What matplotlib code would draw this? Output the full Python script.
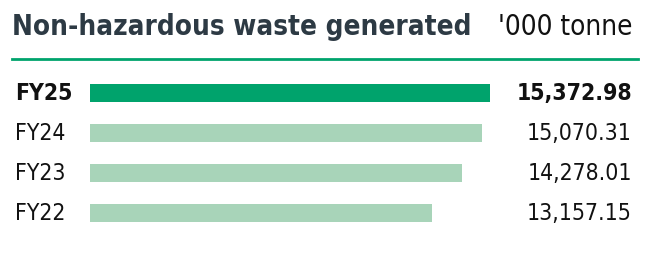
import matplotlib
matplotlib.use('Agg')
import matplotlib.pyplot as plt
from matplotlib.lines import Line2D

years = ['FY25', 'FY24', 'FY23', 'FY22']
values = [15372.98, 15070.31, 14278.01, 13157.15]
value_labels = ['15,372.98', '15,070.31', '14,278.01', '13,157.15']
title = 'Non-hazardous waste generated'
unit = "'000 tonne"

W, H = 651, 277
fam = ['DejaVu Sans']
dark = '#00a36c'
light = '#a8d4b9'

fig = plt.figure(figsize=(W / 100, H / 100), dpi=100)
fig.patch.set_facecolor('white')

# title + unit
fig.text(12 / W, 1 - 27 / H, title, fontsize=20, fontweight='bold',
         fontstretch='condensed', color='#2d3a44', family=fam,
         ha='left', va='center')
fig.text(632 / W, 1 - 27 / H, unit, fontsize=20, color='#111111',
         fontstretch='condensed', family=fam, ha='right', va='center')
fig.add_artist(Line2D([12 / W, 638 / W], [1 - 59 / H, 1 - 59 / H],
                      transform=fig.transFigure, color=dark, lw=2))

# bars: axes spans x 90..490 px, y 73..233 px
ax = fig.add_axes([90 / W, 1 - 233 / H, 400 / W, 160 / H])
ypos = list(range(len(years)))
colors = [dark] + [light] * (len(years) - 1)
ax.barh(ypos, values, height=0.43, color=colors)
ax.set_xlim(0, max(values))
ax.set_ylim(3.5, -0.5)
ax.axis('off')

for i, (y, lab) in enumerate(zip(years, value_labels)):
    yf = 1 - (93.5 + 40 * i) / H
    w = 'bold' if i == 0 else 'normal'
    fig.text(15 / W, yf, y, fontsize=16.5, fontweight=w, color='#111111',
             fontstretch='condensed', family=fam, ha='left', va='center')
    fig.text(632 / W, yf, lab, fontsize=16.5, fontweight=w, color='#111111',
             fontstretch='condensed', family=fam, ha='right', va='center')

fig.savefig('out.png', dpi=100, facecolor='white')
